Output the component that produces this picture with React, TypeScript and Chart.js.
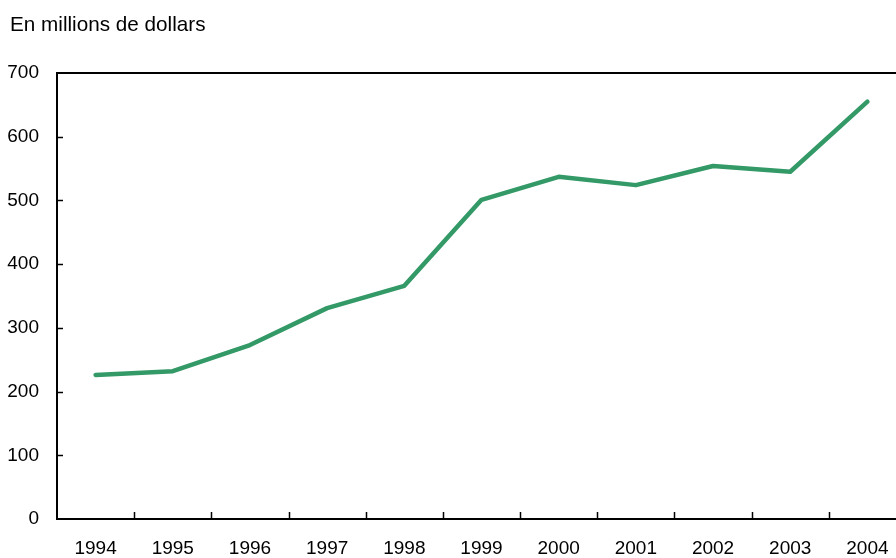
import React, { useEffect, useRef } from "react";
import { Chart, registerables } from "chart.js";

Chart.register(...registerables);

const years = ["1994", "1995", "1996", "1997", "1998", "1999", "2000", "2001", "2002", "2003", "2004"];
const values = [226, 232, 273, 331, 366, 501, 537, 524, 554, 545, 655];
const yTicks = [0, 100, 200, 300, 400, 500, 600, 700];
const unitLabel = "En millions de dollars";

const FONT = "'Liberation Sans', Arial, sans-serif";

const decorPlugin = {
  id: "decor",
  afterDraw(chart: any) {
    const { ctx, chartArea, scales } = chart;
    const x = scales.x;
    const y = scales.y;
    ctx.save();
    ctx.strokeStyle = "#000";
    ctx.lineWidth = 2;
    // top border
    ctx.beginPath();
    ctx.moveTo(chartArea.left - 1, chartArea.top);
    ctx.lineTo(chartArea.right, chartArea.top);
    ctx.stroke();
    // y inward ticks
    ctx.lineWidth = 1.5;
    yTicks.forEach((v) => {
      if (v === 0 || v === 700) return;
      const py = Math.round(y.getPixelForValue(v)) + 0.5;
      ctx.beginPath();
      ctx.moveTo(chartArea.left, py);
      ctx.lineTo(chartArea.left + 6, py);
      ctx.stroke();
    });
    // x inward ticks at category boundaries
    for (let i = 0; i < years.length - 1; i++) {
      const px = Math.round((x.getPixelForTick(i) + x.getPixelForTick(i + 1)) / 2) + 0.5;
      ctx.beginPath();
      ctx.moveTo(px, chartArea.bottom);
      ctx.lineTo(px, chartArea.bottom - 7);
      ctx.stroke();
    }
    // unit label
    ctx.fillStyle = "#000";
    ctx.font = `20.7px ${FONT}`;
    ctx.textAlign = "left";
    ctx.textBaseline = "alphabetic";
    ctx.fillText(unitLabel, 10, 31);
    ctx.restore();
  },
};

export default function App() {
  const ref = useRef<HTMLCanvasElement | null>(null);
  useEffect(() => {
    if (!ref.current) return;
    const chart = new Chart(ref.current, {
      type: "line",
      data: {
        labels: years,
        datasets: [
          {
            data: values,
            borderColor: "#339966",
            borderWidth: 4.5,
            borderCapStyle: "round",
            borderJoinStyle: "round",
            pointRadius: 0,
            tension: 0,
            fill: false,
          },
        ],
      },
      options: {
        responsive: false,
        animation: false,
        layout: { padding: { top: 73, right: 24, left: 0, bottom: 0 } },
        plugins: { legend: { display: false }, tooltip: { enabled: false }, title: { display: false } },
        scales: {
          x: {
            type: "category",
            offset: true,
            grid: { display: true, drawOnChartArea: false, drawTicks: false },
            border: { display: true, color: "#000", width: 2 },
            ticks: { color: "#000", font: { family: FONT, size: 19 }, padding: 18, maxRotation: 0, autoSkip: false },
            afterFit: (s: any) => { s.height = 39; },
          },
          y: {
            min: 0,
            max: 700,
            grid: { display: true, drawOnChartArea: false, drawTicks: false },
            border: { display: true, color: "#000", width: 2 },
            ticks: { color: "#000", font: { family: FONT, size: 19 }, padding: 18, stepSize: 100 },
            afterFit: (s: any) => { s.width = 57; },
          },
        },
      },
      plugins: [decorPlugin],
    });
    return () => chart.destroy();
  }, []);
  return (
    <div style={{ position: "fixed", left: 0, top: 0, width: 896, height: 558, overflow: "hidden", background: "#fff" }}>
      <canvas ref={ref} width={930} height={558} style={{ display: "block" }} />
    </div>
  );
}
